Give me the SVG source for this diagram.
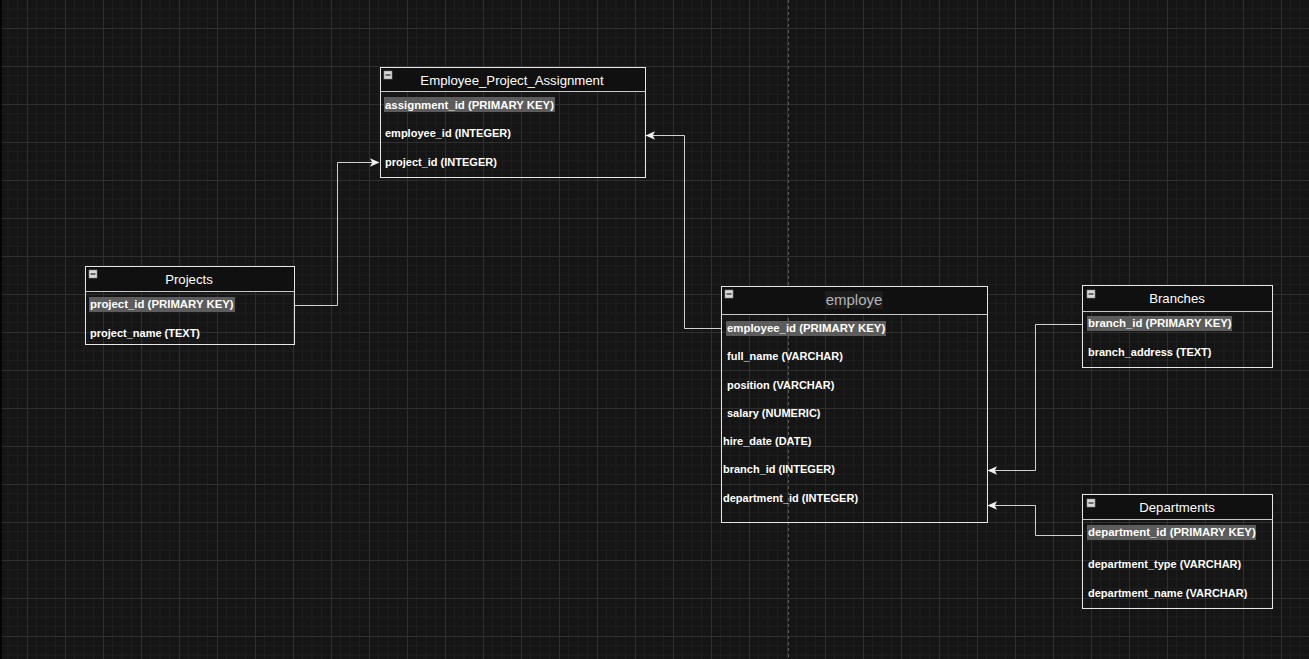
<svg xmlns="http://www.w3.org/2000/svg" width="1309" height="659" viewBox="0 0 1309 659">
  <defs>
    <pattern id="grid" patternUnits="userSpaceOnUse" x="27" y="28" width="38" height="38">
      <path d="M9.5 0V38M19 0V38M28.5 0V38M0 9.5H38M0 19H38M0 28.5H38" stroke="#1d1d1d" stroke-width="1" fill="none"/>
      <path d="M0.5 0V38M0 0.5H38" stroke="#2f2f2f" stroke-width="1" fill="none"/>
    </pattern>
    <marker id="arrow" markerWidth="10" markerHeight="10" refX="9" refY="5" orient="auto" markerUnits="userSpaceOnUse">
      <path d="M0 0.8L9.5 5L0 9.2L2.2 5Z" fill="#f0f0f0"/>
    </marker>
    <style>
      .box { fill: none; stroke: #e6e6e6; stroke-width: 1; }
      .head { fill: #101010; }
      .sep { stroke: #c8c8c8; stroke-width: 1.2; }
      .title { font-family: "Liberation Sans", Arial, sans-serif; font-size: 13.2px; fill: #ffffff; text-anchor: middle; }
      .row { font-family: "Liberation Sans", Arial, sans-serif; font-size: 11px; font-weight: bold; fill: #ffffff; }
      .row.key { font-size: 11.4px; }
      .pk { fill: #5c5c5c; }
      .icon { fill: #d8d8d8; stroke: #8a8a8a; stroke-width: 0.6; }
      .minus { stroke: #222; stroke-width: 1.2; }
      .link { fill: none; stroke: #d0d0d0; stroke-width: 1; marker-end: url(#arrow); }
    </style>
  </defs>

  <!-- canvas -->
  <rect width="1309" height="659" fill="#151515"/>
  <rect width="1309" height="659" fill="url(#grid)"/>
  <rect x="0" y="0" width="2" height="659" fill="#050505"/>
  <line x1="788.5" y1="0" x2="788.5" y2="659" stroke="#5a5a5a" stroke-width="1" stroke-dasharray="3 3"/>

  <!-- connectors -->
  <g id="connectors">
    <path class="link" d="M294.5 305.5H337.5V162.5H379"/>
    <path class="link" d="M721 328.5H684.5V135.5H646"/>
    <path class="link" d="M1082 324.5H1035.5V470.5H988"/>
    <path class="link" d="M1082 535.5H1035.5V505.5H988"/>
  </g>

  <!-- Employee_Project_Assignment -->
  <g id="employee-project-assignment">
    <rect class="head" x="380.5" y="67.5" width="265" height="24"/>
    <rect class="box" x="380.5" y="67.5" width="265" height="110"/>
    <line class="sep" x1="380.5" y1="91.5" x2="645.5" y2="91.5"/>
    <rect class="icon" x="384" y="71" width="8" height="8"/>
    <line class="minus" x1="385.5" y1="75" x2="390.5" y2="75"/>
    <text class="title" x="512" y="85">Employee_Project_Assignment</text>
    <rect class="pk" x="384" y="97" width="171" height="15"/>
    <text class="row key" x="385" y="109">assignment_id (PRIMARY KEY)</text>
    <text class="row" x="385" y="137">employee_id (INTEGER)</text>
    <text class="row" x="385" y="166">project_id (INTEGER)</text>
  </g>

  <!-- Projects -->
  <g id="projects">
    <rect class="head" x="85.5" y="266.5" width="209" height="25"/>
    <rect class="box" x="85.5" y="266.5" width="209" height="78"/>
    <line class="sep" x1="85.5" y1="291.5" x2="294.5" y2="291.5"/>
    <rect class="icon" x="89" y="270" width="8" height="8"/>
    <line class="minus" x1="90.5" y1="274" x2="95.5" y2="274"/>
    <text class="title" x="189" y="284">Projects</text>
    <rect class="pk" x="89" y="297" width="146" height="15"/>
    <text class="row key" x="90" y="308">project_id (PRIMARY KEY)</text>
    <text class="row" x="90" y="337">project_name (TEXT)</text>
  </g>

  <!-- employe -->
  <g id="employe">
    <rect class="head" x="721.5" y="286.5" width="266" height="28"/>
    <rect class="box" x="721.5" y="286.5" width="266" height="236"/>
    <line class="sep" x1="721.5" y1="314.5" x2="987.5" y2="314.5"/>
    <rect class="icon" x="725" y="290" width="8" height="8"/>
    <line class="minus" x1="726.5" y1="294" x2="731.5" y2="294"/>
    <rect x="825" y="291" width="58" height="18" fill="#1c1c1c"/>
    <text class="title" x="854" y="305" style="font-size:15px;fill:#b4b4b4">employe</text>
    <rect class="pk" x="726" y="321" width="160" height="15"/>
    <text class="row key" x="727" y="332">employee_id (PRIMARY KEY)</text>
    <text class="row" x="727" y="360">full_name (VARCHAR)</text>
    <text class="row" x="727" y="389">position (VARCHAR)</text>
    <text class="row" x="727" y="417">salary (NUMERIC)</text>
    <text class="row" x="723" y="445">hire_date (DATE)</text>
    <text class="row" x="723" y="473">branch_id (INTEGER)</text>
    <text class="row" x="723" y="502">department_id (INTEGER)</text>
  </g>

  <!-- Branches -->
  <g id="branches">
    <rect class="head" x="1082.5" y="285.5" width="190" height="26"/>
    <rect class="box" x="1082.5" y="285.5" width="190" height="82"/>
    <line class="sep" x1="1082.5" y1="311.5" x2="1272.5" y2="311.5"/>
    <rect class="icon" x="1087" y="290" width="8" height="8"/>
    <line class="minus" x1="1088.5" y1="294" x2="1093.5" y2="294"/>
    <text class="title" x="1177" y="303">Branches</text>
    <rect class="pk" x="1087" y="316" width="145" height="15"/>
    <text class="row key" x="1088" y="327">branch_id (PRIMARY KEY)</text>
    <text class="row" x="1088" y="356">branch_address (TEXT)</text>
  </g>

  <!-- Departments -->
  <g id="departments">
    <rect class="head" x="1082.5" y="494.5" width="190" height="25"/>
    <rect class="box" x="1082.5" y="494.5" width="190" height="114"/>
    <line class="sep" x1="1082.5" y1="519.5" x2="1272.5" y2="519.5"/>
    <rect class="icon" x="1087" y="499" width="8" height="8"/>
    <line class="minus" x1="1088.5" y1="503" x2="1093.5" y2="503"/>
    <text class="title" x="1177" y="512">Departments</text>
    <rect class="pk" x="1087" y="525" width="169" height="15"/>
    <text class="row key" x="1088" y="536">department_id (PRIMARY KEY)</text>
    <text class="row" x="1088" y="568">department_type (VARCHAR)</text>
    <text class="row" x="1088" y="597">department_name (VARCHAR)</text>
  </g>
</svg>
